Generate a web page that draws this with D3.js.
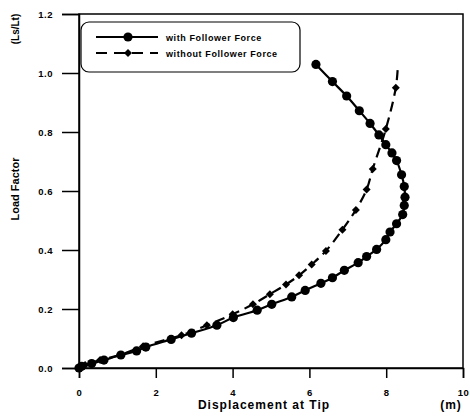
<!DOCTYPE html>
<html>
<head>
<meta charset="utf-8">
<script src="https://cdn.jsdelivr.net/npm/d3@7"></script>
<style>
  body { margin: 0; background: #fff; }
  svg { display: block; font-family: "Liberation Sans", Arial, sans-serif; }
</style>
</head>
<body>
<svg width="470" height="417"></svg>
<script>
// with Follower Force (circles)
var withX = [0, 0.07, 0.33, 0.65, 1.09, 1.50, 1.74, 2.40, 2.93, 3.59, 4.02, 4.64, 5.02, 5.54, 5.89, 6.30, 6.60, 6.91, 7.27, 7.49, 7.75, 7.99, 8.10, 8.27, 8.43, 8.47, 8.49, 8.47, 8.40, 8.27, 8.15, 7.99, 7.81, 7.58, 7.30, 6.97, 6.60, 6.17];
var withY = [0, 0.006, 0.015, 0.027, 0.044, 0.058, 0.071, 0.097, 0.118, 0.145, 0.171, 0.196, 0.216, 0.241, 0.263, 0.287, 0.306, 0.331, 0.357, 0.378, 0.402, 0.435, 0.461, 0.489, 0.520, 0.551, 0.579, 0.615, 0.655, 0.703, 0.729, 0.757, 0.790, 0.829, 0.872, 0.922, 0.971, 1.029];

// without Follower Force (diamonds); last point is the end of the dashed curve
var withoutX = [0, 0.16, 0.55, 1.07, 1.67, 2.67, 3.33, 4.00, 4.53, 4.97, 5.39, 5.73, 6.06, 6.43, 6.86, 7.21, 7.49, 7.65, 7.99, 8.25, 8.30];
var withoutY = [0, 0.010, 0.027, 0.044, 0.074, 0.111, 0.145, 0.182, 0.216, 0.250, 0.283, 0.314, 0.351, 0.397, 0.469, 0.536, 0.605, 0.675, 0.810, 0.950, 1.015];

var xTicks = [0, 2, 4, 6, 8, 10];
var yTicks = [0, 0.2, 0.4, 0.6, 0.8, 1.0, 1.2];
var legendLabels = ["with Follower Force", "without Follower Force"];

var svg = d3.select("svg");

var x = d3.scaleLinear().domain([0, 10]).range([79, 463]);
var y = d3.scaleLinear().domain([0, 1.2]).range([368, 14]);

// frame
svg.append("rect")
    .attr("x", x(0)).attr("y", y(1.2))
    .attr("width", x(10) - x(0)).attr("height", y(0) - y(1.2))
    .attr("fill", "none").attr("stroke", "#000").attr("stroke-width", 1.5);

var yAxis = svg.append("g")
    .attr("transform", "translate(" + x(0) + ",0)")
    .call(d3.axisLeft(y).tickValues(yTicks).tickFormat(d3.format(".1f")).tickSize(17).tickPadding(9));

var xAxis = svg.append("g")
    .attr("transform", "translate(0," + y(0) + ")")
    .call(d3.axisBottom(x).tickValues(xTicks).tickFormat(d3.format("d")).tickSize(10).tickPadding(11));

[xAxis, yAxis].forEach(function(a) {
    a.select(".domain").attr("stroke-width", 1.5);
    a.selectAll(".tick line").attr("stroke-width", 1.5);
    a.selectAll(".tick text")
        .attr("font-size", 9.5)
        .attr("font-weight", "bold")
        .attr("font-family", "'Liberation Sans', Arial, sans-serif")
        .style("letter-spacing", "0.5px");
});

// axis titles
svg.append("text")
    .attr("x", 264).attr("y", 409)
    .attr("text-anchor", "middle")
    .attr("font-size", 12).attr("font-weight", "bold")
    .style("letter-spacing", "1px")
    .text("Displacement at Tip");

svg.append("text")
    .attr("x", 451).attr("y", 409)
    .attr("text-anchor", "middle")
    .attr("font-size", 12).attr("font-weight", "bold")
    .style("letter-spacing", "1px")
    .text("(m)");

svg.append("text")
    .attr("transform", "translate(19,189) rotate(-90)")
    .attr("text-anchor", "middle")
    .attr("font-size", 11).attr("font-weight", "bold")
    .text("Load Factor");

svg.append("text")
    .attr("transform", "translate(19,29) rotate(-90)")
    .attr("text-anchor", "middle")
    .attr("font-size", 10).attr("font-weight", "bold")
    .text("(Ls/Lt)");

// curves
var line = d3.line()
    .x(function(d) { return x(d[0]); })
    .y(function(d) { return y(d[1]); })
    .curve(d3.curveCatmullRom);

var withData = withX.map(function(v, i) { return [v, withY[i]]; });
var withoutData = withoutX.map(function(v, i) { return [v, withoutY[i]]; });

svg.append("path")
    .attr("d", line(withoutData))
    .attr("fill", "none").attr("stroke", "#000")
    .attr("stroke-width", 2.2).attr("stroke-dasharray", "10,6");

svg.append("path")
    .attr("d", line(withData))
    .attr("fill", "none").attr("stroke", "#000")
    .attr("stroke-width", 2.2);

// square turned 45 degrees, as in the reference
var diamond = d3.symbol().type(d3.symbolSquare).size(32);

svg.append("g").selectAll("path")
    .data(withoutData.slice(0, withoutData.length - 1))
    .enter().append("path")
    .attr("d", diamond)
    .attr("transform", function(d) { return "translate(" + x(d[0]) + "," + y(d[1]) + ") rotate(45)"; })
    .attr("fill", "#000");

svg.append("g").selectAll("circle")
    .data(withData)
    .enter().append("circle")
    .attr("cx", function(d) { return x(d[0]); })
    .attr("cy", function(d) { return y(d[1]); })
    .attr("r", 4.6)
    .attr("fill", "#000");

// legend
var legend = svg.append("g");
legend.append("rect")
    .attr("x", 81).attr("y", 22).attr("width", 219).attr("height", 50)
    .attr("rx", 8).attr("ry", 8)
    .attr("fill", "#fff").attr("stroke", "#000").attr("stroke-width", 1.2);

legendLabels.forEach(function(lbl, i) {
    var ly = 37 + i * 16;
    var item = legend.append("g");
    item.append("line")
        .attr("x1", 96).attr("x2", 158).attr("y1", ly).attr("y2", ly)
        .attr("stroke", "#000").attr("stroke-width", 2.2)
        .attr("stroke-dasharray", i === 0 ? null : "11,7");
    if (i === 0) {
        item.append("circle").attr("cx", 128).attr("cy", ly).attr("r", 4.6).attr("fill", "#000");
    } else {
        item.append("path").attr("d", diamond)
            .attr("transform", "translate(128," + ly + ") rotate(45)").attr("fill", "#000");
    }
    item.append("text")
        .attr("x", 166).attr("y", ly + 3.5)
        .attr("font-size", 9).attr("font-weight", "bold")
        .style("letter-spacing", "0.6px")
        .text(lbl);
});
</script>
</body>
</html>
